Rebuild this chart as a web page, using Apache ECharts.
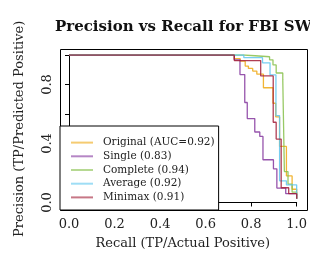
<!DOCTYPE html>
<html>
<head>
<meta charset="utf-8">
<script src="https://cdn.jsdelivr.net/npm/echarts@6/dist/echarts.min.js"></script>
<style>
  html, body { margin: 0; padding: 0; background: #fff; }
  #main { width: 310px; height: 255px; }
</style>
</head>
<body>
<div id="main"></div>
<script>
// values (recall, precision), step curves
var recallOriginal = [0, 0.726, 0.752, 0.774, 0.788, 0.807, 0.825, 0.854, 0.896, 0.908, 0.925, 0.955, 0.98, 1.0];
var precOriginal   = [1, 0.975, 0.958, 0.925, 0.909, 0.891, 0.87, 0.778, 0.673, 0.58, 0.38, 0.18, 0.09, 0.025];

var recallSingle = [0, 0.726, 0.751, 0.772, 0.783, 0.816, 0.838, 0.852, 0.898, 0.913, 0.952, 1.0];
var precSingle   = [1, 0.967, 0.867, 0.678, 0.569, 0.478, 0.448, 0.29, 0.228, 0.098, 0.06, 0.025];

var recallComplete = [0, 0.77, 0.881, 0.896, 0.91, 0.939, 0.946, 0.962, 0.98, 1.0];
var precComplete   = [1, 0.988, 0.967, 0.933, 0.878, 0.833, 0.21, 0.125, 0.07, 0.025];

var recallAverage = [0, 0.768, 0.85, 0.883, 0.909, 0.925, 0.955, 1.0];
var precAverage   = [1, 0.982, 0.947, 0.865, 0.589, 0.147, 0.12, 0.025];

var recallMinimax = [0, 0.726, 0.842, 0.897, 0.91, 0.932, 0.965, 1.0];
var precMinimax   = [1, 0.962, 0.858, 0.544, 0.43, 0.10, 0.06, 0.025];

var seriesNames = ['Original (AUC=0.92)', 'Single (0.83)', 'Complete (0.94)', 'Average (0.92)', 'Minimax (0.91)'];
var colors = ['#EFA812', '#84369E', '#86C04A', '#5EC6EE', '#A21C36'];
var yLabelsShown = [0, 0.4, 0.8];

var serif = 'DejaVu Serif';

function pairs(xs, ys) {
  return xs.map(function (x, i) { return [x, ys[i]]; });
}

var curves = [
  pairs(recallOriginal, precOriginal),
  pairs(recallSingle, precSingle),
  pairs(recallComplete, precComplete),
  pairs(recallAverage, precAverage),
  pairs(recallMinimax, precMinimax)
];

var chart = echarts.init(document.getElementById('main'), null, { renderer: 'canvas' });

var option = {
  animation: false,
  backgroundColor: '#fff',
  color: colors,
  title: {
    text: 'Precision vs Recall for FBI SW',
    left: 55,
    top: 20,
    padding: 0,
    textStyle: { fontFamily: serif, fontWeight: 'bold', fontSize: 15, color: '#111' }
  },
  grid: { left: 69, top: 55, width: 230, height: 150 },
  xAxis: {
    type: 'value',
    min: 0, max: 1, interval: 0.2,
    offset: 5.5,
    name: 'Recall (TP/Actual Positive)',
    nameLocation: 'middle',
    nameGap: 29,
    nameTextStyle: { fontFamily: serif, fontSize: 13, color: '#222' },
    axisLine: { show: true, lineStyle: { color: '#000', width: 1 } },
    axisTick: { show: true, length: 4, lineStyle: { color: '#000' } },
    splitLine: { show: false },
    axisLabel: {
      margin: 10,
      fontFamily: serif, fontSize: 13, color: '#222',
      formatter: function (v) { return v.toFixed(1); }
    }
  },
  yAxis: {
    type: 'value',
    min: 0, max: 1, interval: 0.2,
    offset: 9,
    name: 'Precision (TP/Predicted Positive)',
    nameLocation: 'middle',
    nameGap: 34,
    nameTextStyle: { fontFamily: serif, fontSize: 13, color: '#222' },
    axisLine: { show: true, lineStyle: { color: '#000', width: 1 } },
    axisTick: { show: true, length: 4, lineStyle: { color: '#000' } },
    splitLine: { show: false },
    axisLabel: {
      rotate: 90,
      margin: 6,
      fontFamily: serif, fontSize: 13, color: '#222',
      formatter: function (v) {
        var keep = yLabelsShown.some(function (t) { return Math.abs(t - v) < 1e-6; });
        return keep ? v.toFixed(1) : '';
      }
    }
  },
  legend: {
    orient: 'vertical',
    left: 60,
    top: 126,
    itemWidth: 22,
    itemHeight: 14,
    itemGap: 2.5,
    padding: [11, 4, 7, 10],
    backgroundColor: '#fff',
    borderColor: '#000',
    borderWidth: 1,
    borderRadius: 0,
    itemStyle: { opacity: 0 },
    lineStyle: { opacity: 0.6 },
    textStyle: { fontFamily: serif, fontSize: 10.5, color: '#222', padding: [0, 0, 0, 5] },
    data: seriesNames
  },
  graphic: [{
    type: 'rect',
    z: 1,
    silent: true,
    shape: { x: 60.5, y: 49.5, width: 247, height: 161 },
    style: { fill: 'none', stroke: '#000', lineWidth: 1 }
  }],
  series: curves.map(function (d, i) {
    return {
      name: seriesNames[i],
      type: 'line',
      step: 'end',
      symbol: 'none',
      silent: true,
      data: d,
      lineStyle: { width: 1.3, opacity: 0.85 }
    };
  })
};

chart.setOption(option);
</script>
</body>
</html>
